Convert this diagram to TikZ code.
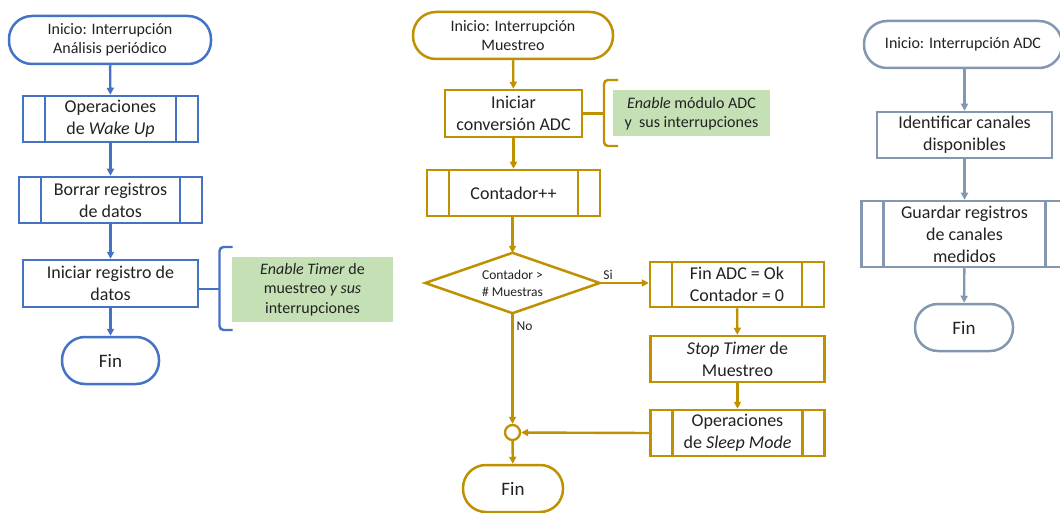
\documentclass[tikz,border=0pt]{standalone}
\usepackage{fontspec}
\setmainfont{Carlito}
\usetikzlibrary{arrows.meta}

\definecolor{flowblue}{HTML}{4472C4}
\definecolor{flowgold}{HTML}{BF9000}
\definecolor{flowslate}{HTML}{8497B0}
\definecolor{notegreen}{HTML}{C5E0B4}
\definecolor{ink}{HTML}{222222}

\tikzset{
  base/.style={draw=#1, line width=2.5pt, text=ink, align=center, inner sep=1pt,
    font=\fontsize{18}{22}\selectfont},
  terminal/.style={base=#1, rectangle, rounded corners=23pt, minimum height=47pt},
  startbox/.style={terminal=#1, font=\fontsize{16}{19.5}\selectfont},
  procbox/.style={base=#1, rectangle, minimum height=46pt},
  subbox/.style={procbox=#1,
    path picture={\draw[#1, line width=2.5pt]
      ([xshift=22pt]path picture bounding box.north west) -- ([xshift=22pt]path picture bounding box.south west)
      ([xshift=-22pt]path picture bounding box.north east) -- ([xshift=-22pt]path picture bounding box.south east);}},
  % decision text frame; the rhombus is drawn through its side mid-points
  decision/.style={rectangle, text=ink, align=center, inner sep=0pt,
    font=\fontsize{13.5}{17}\selectfont},
  rhomb/.style={draw=#1, line width=2.5pt, line join=miter},
  joint/.style={draw=#1, line width=2.3pt, circle, inner sep=0pt, minimum size=15pt, fill=white},
  note/.style={fill=notegreen, draw=none, text=ink, align=center, inner sep=1pt,
    font=\fontsize{16}{19.5}\selectfont},
  tag/.style={text=ink, inner sep=0pt, font=\fontsize{13.5}{16}\selectfont},
  flow/.style={draw=#1, line width=2.4pt, -{Triangle[length=7pt,width=7pt]}},
  link/.style={draw=#1, line width=2.4pt},
  bracket/.style={draw=#1, line width=2.4pt, rounded corners=4pt}
}

\begin{document}
\begin{tikzpicture}[x=1pt, y=-1pt]
\useasboundingbox (0,0) rectangle (1060,513);
\clip (0,0) rectangle (1060,513);
\fill[white] (0,0) rectangle (1060,513);

% ---------- Periodic analysis interrupt ----------
\node[startbox=flowblue, minimum width=202pt, minimum height=48pt] (s1) at (110,40) {Inicio: Interrupción\\Análisis periódico};
\node[subbox=flowblue, minimum width=175pt] (p1) at (110.5,119) {Operaciones\\de \textit{Wake Up}};
\node[subbox=flowblue, minimum width=183pt] (p2) at (110.5,200) {Borrar registros\\de datos};
\node[procbox=flowblue, minimum width=175pt, minimum height=47pt] (p3) at (110.5,283.5) {Iniciar registro de\\datos};
\node[terminal=flowblue, minimum width=97pt, font=\fontsize{19}{22}\selectfont] (f1) at (110.5,360.5) {Fin};
\node[note, minimum width=161pt, minimum height=65pt] (n1) at (312.5,289.5) {\textit{Enable Timer} de\\muestreo \textit{y sus}\\interrupciones};

\draw[flow=flowblue] (s1) -- (p1);
\draw[flow=flowblue] (p1) -- (p2);
\draw[flow=flowblue] (p2) -- (p3);
\draw[flow=flowblue] (p3) -- (f1);

\coordinate (bl) at (219.5,289);
\draw[link=flowblue] (p3.east |- bl) -- (bl);
\draw[bracket=flowblue] (232.5,247) -| (bl) |- (232.5,330);

% ---------- Sampling interrupt ----------
\node[startbox=flowgold, minimum width=200pt] (s2) at (513,35.5) {Inicio: Interrupción\\Muestreo};
\node[procbox=flowgold, minimum width=137pt, minimum height=47pt] (b1) at (513.5,113.5) {Iniciar\\conversión ADC};
\node[note, minimum width=157pt, minimum height=46pt] (n2) at (691.5,113.5) {\textit{Enable} módulo ADC\\y\ \ sus interrupciones};
\node[subbox=flowgold, minimum width=173pt] (p4) at (513.5,193) {Contador++};
\node[decision, minimum width=174pt, minimum height=60pt] (d1) at (512.5,283) {Contador >\\\# Muestras};
\draw[rhomb=flowgold] (d1.west) -- (d1.north) -- (d1.east) -- (d1.south) -- cycle;
\node[subbox=flowgold, minimum width=174pt, minimum height=45pt] (p5) at (737,284.5) {Fin ADC = Ok\\Contador = 0};
\node[procbox=flowgold, minimum width=174pt] (b2) at (737.5,359) {\textit{Stop Timer} de\\Muestreo};
\node[subbox=flowgold, minimum width=174pt] (p6) at (737.5,433) {Operaciones\\de \textit{Sleep Mode}};
\node[joint=flowgold] (j1) at (512.5,432.5) {};
\node[terminal=flowgold, minimum width=100pt, font=\fontsize{19}{22}\selectfont] (f2) at (513,488.5) {Fin};
\node[tag] (si) at (608,275) {Si};
\node[tag] (no) at (524.5,326) {No};

\draw[flow=flowgold] (s2) -- (b1);
\draw[flow=flowgold] (b1) -- (p4);
\draw[flow=flowgold] (p4.south -| d1.north) -- (d1.north);
\draw[flow=flowgold] (d1.east) -- (d1.east -| p5.west);
\draw[flow=flowgold] (p5) -- (b2);
\draw[flow=flowgold] (b2) -- (p6);
\draw[flow=flowgold] (d1.south) -- (j1);
\draw[flow=flowgold] (p6.west) -- (j1);
\draw[flow=flowgold] (j1) -- (f2);

\coordinate (bm) at (604,113.5);
\draw[link=flowgold] (b1.east |- bm) -- (bm);
\draw[bracket=flowgold] (618,80) -| (bm) |- (618,146);

% ---------- ADC interrupt ----------
\node[startbox=flowslate, minimum width=198pt] (s3) at (963,44.5) {Inicio: Interrupción ADC};
\node[procbox=flowslate, minimum width=175pt] (r1) at (964.5,135) {Identificar canales\\disponibles};
\node[subbox=flowslate, minimum width=206pt, minimum height=66pt] (p7) at (964.5,234) {Guardar registros\\de canales\\medidos};
\node[terminal=flowslate, minimum width=98pt, font=\fontsize{19}{22}\selectfont] (f3) at (964,327.5) {Fin};

\draw[flow=flowslate] (s3.south -| r1) -- (r1);
\draw[flow=flowslate] (r1) -- (p7);
\draw[flow=flowslate] (p7) -- (f3);
\end{tikzpicture}
\end{document}
